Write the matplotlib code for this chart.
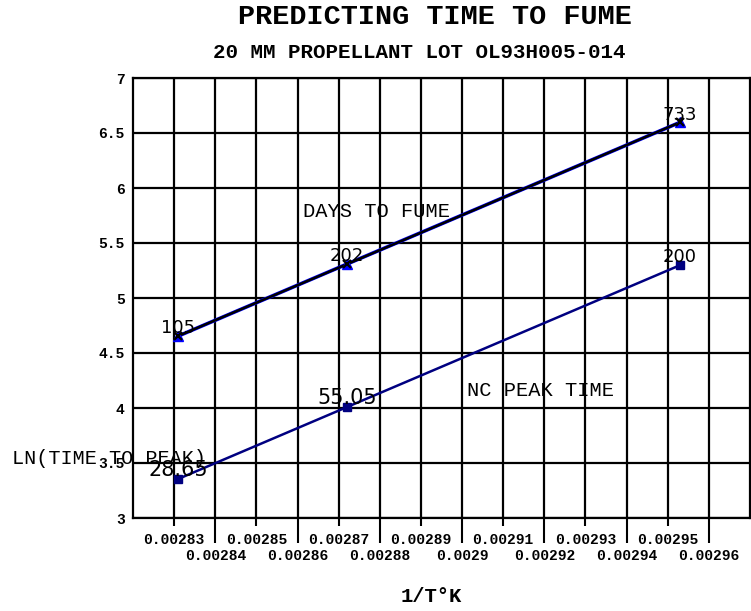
import numpy as np
import matplotlib
matplotlib.use("Agg")
import matplotlib.pyplot as plt
from matplotlib.ticker import FixedLocator, FixedFormatter

# data
inv_temp = [0.002831, 0.002872, 0.002953]
days_to_fume = [105, 202, 733]
nc_peak_time = [28.65, 55.05, 200]
days_labels = ['105', '202', '733']
nc_labels = ['28.65', '55.05', '200']

upper_ticks = [0.00283, 0.00285, 0.00287, 0.00289, 0.00291, 0.00293, 0.00295]
upper_labels = ['0.00283', '0.00285', '0.00287', '0.00289', '0.00291', '0.00293', '0.00295']
lower_ticks = [0.00284, 0.00286, 0.00288, 0.0029, 0.00292, 0.00294, 0.00296]
lower_labels = ['0.00284', '0.00286', '0.00288', '0.0029', '0.00292', '0.00294', '0.00296']
y_ticks = [3, 3.5, 4, 4.5, 5, 5.5, 6, 6.5, 7]
y_labels = ['3', '3.5', '4', '4.5', '5', '5.5', '6', '6.5', '7']

mono = 'Liberation Mono'

fig = plt.figure(figsize=(7.51, 6.11), dpi=100)
ax = fig.add_axes([133/751, 93/611, 617/751, 440/611])

x = np.array(inv_temp)
y_days = np.log(days_to_fume)
y_nc = np.log(nc_peak_time)

fit_days = np.polyfit(x, y_days, 1)
fit_nc = np.polyfit(x, y_nc, 1)

ax.plot(x, y_days, '-', c='#0000ff', lw=2.6, zorder=3)
ax.plot(x, np.polyval(fit_days, x), '-', c='black', lw=1.8, zorder=4)
ax.plot(x, y_days, '^', c='#0000ff', ms=7, zorder=5, ls='none')
ax.plot(x, np.polyval(fit_days, x), 'x', c='black', ms=6, mew=1.6, zorder=6, ls='none')

ax.plot(x, np.polyval(fit_nc, x), '-', c='#000080', lw=1.8, zorder=3)
ax.plot(x, y_nc, 's', c='#000080', ms=6, zorder=5, ls='none')

for xi, yi, lab in zip(x, y_days, days_labels):
    ax.annotate(lab, (xi, yi), xytext=(0, 2), textcoords='offset points',
                ha='center', va='baseline', fontsize=13, family='DejaVu Sans', zorder=7)
for xi, yi, lab in zip(x, y_nc, nc_labels):
    size = 13 if lab == '200' else 15
    ax.annotate(lab, (xi, yi), xytext=(0, 2), textcoords='offset points',
                ha='center', va='baseline', fontsize=size, family='DejaVu Sans', zorder=7)

ax.text(0.0028791, 5.782, 'DAYS TO FUME', ha='center', va='center',
        fontsize=14.7, family=mono, zorder=7)
ax.text(0.0029190, 4.155, 'NC PEAK TIME', ha='center', va='center',
        fontsize=14.7, family=mono, zorder=7)

ax.set_xlim(0.00282, 0.00297)
ax.set_ylim(3, 7)

ax.xaxis.set_major_locator(FixedLocator(upper_ticks))
ax.xaxis.set_major_formatter(FixedFormatter(upper_labels))
ax.xaxis.set_minor_locator(FixedLocator(lower_ticks))
ax.xaxis.set_minor_formatter(FixedFormatter(lower_labels))
ax.set_yticks(y_ticks)
ax.set_yticklabels(y_labels)

ax.tick_params(axis='x', which='major', length=5.5, width=1.5, pad=5,
               labelsize=10.5)
ax.tick_params(axis='x', which='minor', length=18, width=1.5, pad=4,
               labelsize=10.5)
ax.tick_params(axis='y', length=0, pad=6, labelsize=10.5)
for lab in ax.get_xticklabels(which='both') + ax.get_yticklabels():
    lab.set_family(mono)
    lab.set_fontweight('bold')

ax.grid(True, which='both', axis='x', c='black', lw=1.6)
ax.grid(True, which='major', axis='y', c='black', lw=1.6)
ax.set_axisbelow(True)
for sp in ax.spines.values():
    sp.set_linewidth(1.6)

fig.text(435/751, 1 - 17/611, 'PREDICTING TIME TO FUME', ha='center', va='center',
         fontsize=20.5, family=mono, fontweight='bold')
fig.text(419/751, 1 - 52/611, '20 MM PROPELLANT LOT OL93H005-014', ha='center',
         va='center', fontsize=15, family=mono, fontweight='bold')
fig.text(431/751, 1 - 597/611, '1/T\u00b0K', ha='center', va='center',
         fontsize=14.8, family=mono, fontweight='bold')
fig.text(12/751, 1 - 458/611, 'LN(TIME TO PEAK)', ha='left', va='center',
         fontsize=14.5, family=mono, zorder=10)

fig.savefig('out.png', dpi=100)
